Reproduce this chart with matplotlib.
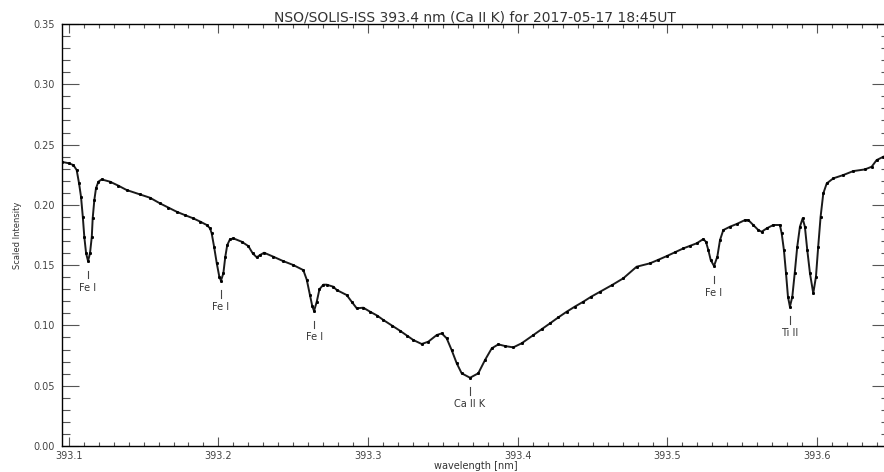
import matplotlib.pyplot as plt
from matplotlib.ticker import MultipleLocator

# Ca II K region, scaled intensity vs wavelength (nm)
wavelength = [
    393.0953, 393.1000, 393.1031, 393.1053, 393.1069, 393.1082, 393.1094, 393.1104,
    393.1116, 393.1129, 393.1142, 393.1154, 393.1160, 393.1171, 393.1182, 393.1198,
    393.1220, 393.1276, 393.1330, 393.1387, 393.1476, 393.1543, 393.1610, 393.1665,
    393.1721, 393.1776, 393.1832, 393.1880, 393.1922, 393.1944, 393.1955, 393.1971,
    393.1989, 393.2006, 393.2017, 393.2033, 393.2046, 393.2059, 393.2077, 393.2100,
    393.2156, 393.2200, 393.2229, 393.2256, 393.2278, 393.2305, 393.2367, 393.2430,
    393.2500, 393.2567, 393.2590, 393.2612, 393.2627, 393.2639, 393.2657, 393.2675,
    393.2701, 393.2723, 393.2768, 393.2790, 393.2857, 393.2890, 393.2924, 393.2968,
    393.3013, 393.3060, 393.3102, 393.3160, 393.3213, 393.3260, 393.3302, 393.3358,
    393.3402, 393.3458, 393.3492, 393.3525, 393.3558, 393.3592, 393.3625, 393.3681,
    393.3736, 393.3781, 393.3826, 393.3870, 393.3915, 393.3970, 393.4026, 393.4104,
    393.4160, 393.4215, 393.4270, 393.4327, 393.4380, 393.4438, 393.4490, 393.4549,
    393.4630, 393.4705, 393.4794, 393.4883, 393.4940, 393.4995, 393.5050, 393.5106,
    393.5150, 393.5195, 393.5239, 393.5257, 393.5273, 393.5289, 393.5311, 393.5333,
    393.5351, 393.5373, 393.5418, 393.5462, 393.5518, 393.5540, 393.5573, 393.5607,
    393.5629, 393.5663, 393.5707, 393.5751, 393.5763, 393.5778, 393.5792, 393.5805,
    393.5818, 393.5834, 393.5850, 393.5867, 393.5885, 393.5903, 393.5918, 393.5934,
    393.5952, 393.5974, 393.5992, 393.6007, 393.6023, 393.6041, 393.6064, 393.6108,
    393.6174, 393.6241, 393.6319, 393.6364, 393.6397, 393.6442,
]
intensity = [
    0.2357, 0.2345, 0.2330, 0.2289, 0.2178, 0.2067, 0.1901, 0.1735,
    0.1598, 0.1534, 0.1598, 0.1735, 0.1888, 0.2040, 0.2137, 0.2192,
    0.2211, 0.2192, 0.2160, 0.2123, 0.2087, 0.2059, 0.2012, 0.1978,
    0.1943, 0.1915, 0.1888, 0.1860, 0.1833, 0.1805, 0.1764, 0.1653,
    0.1515, 0.1404, 0.1371, 0.1432, 0.1570, 0.1667, 0.1714, 0.1722,
    0.1694, 0.1658, 0.1598, 0.1565, 0.1584, 0.1603, 0.1570, 0.1535,
    0.1501, 0.1459, 0.1380, 0.1250, 0.1160, 0.1120, 0.1197, 0.1300,
    0.1338, 0.1338, 0.1321, 0.1294, 0.1252, 0.1197, 0.1142, 0.1147,
    0.1114, 0.1082, 0.1045, 0.0998, 0.0956, 0.0915, 0.0879, 0.0846,
    0.0865, 0.0920, 0.0934, 0.0893, 0.0796, 0.0686, 0.0603, 0.0566,
    0.0603, 0.0713, 0.0810, 0.0843, 0.0829, 0.0818, 0.0852, 0.0920,
    0.0968, 0.1017, 0.1066, 0.1114, 0.1155, 0.1197, 0.1238, 0.1279,
    0.1335, 0.1391, 0.1487, 0.1515, 0.1545, 0.1575, 0.1607, 0.1639,
    0.1660, 0.1681, 0.1716, 0.1694, 0.1625, 0.1542, 0.1493, 0.1570,
    0.1708, 0.1791, 0.1819, 0.1841, 0.1874, 0.1874, 0.1833, 0.1791,
    0.1777, 0.1805, 0.1833, 0.1833, 0.1764, 0.1625, 0.1432, 0.1238,
    0.1155, 0.1238, 0.1432, 0.1653, 0.1819, 0.1888, 0.1819, 0.1625,
    0.1432, 0.1266, 0.1404, 0.1653, 0.1901, 0.2095, 0.2178, 0.2220,
    0.2247, 0.2280, 0.2294, 0.2316, 0.2371, 0.2399,
]

# identified lines
line_wl = [393.1129, 393.2017, 393.2639, 393.3681, 393.5311, 393.5818]
line_name = ["Fe I", "Fe I", "Fe I", "Ca II K", "Fe I", "Ti II"]

fig = plt.figure(figsize=(8.84, 4.72), dpi=100)
ax = fig.add_axes([61.7 / 884, 26 / 472, (889 - 61.7) / 884, 422 / 472])

ax.plot(wavelength, intensity, color="#1a1a1a", lw=1.4)
ax.plot(wavelength, intensity, "s", ms=1.1, color="black")

for wl, name in zip(line_wl, line_name):
    i = min(range(len(wavelength)), key=lambda k: abs(wavelength[k] - wl))
    ymin = intensity[i]
    ax.plot([wl, wl], [ymin - 0.008, ymin - 0.014], color="#444444", lw=0.8)
    ax.text(wl, ymin - 0.022, name, ha="center", va="center",
            fontsize=7, color="#333333")

ax.set_xlim(393.0953, 393.648)
ax.set_ylim(0, 0.35)
ax.xaxis.set_major_locator(MultipleLocator(0.1))
ax.xaxis.set_minor_locator(MultipleLocator(0.01))
ax.yaxis.set_major_locator(MultipleLocator(0.05))
ax.yaxis.set_minor_locator(MultipleLocator(0.01))
ax.xaxis.set_major_formatter(plt.FormatStrFormatter("%.1f"))
ax.yaxis.set_major_formatter(plt.FormatStrFormatter("%.2f"))

ax.tick_params(axis="both", which="both", direction="in", top=True, right=True,
               color="#555555", labelcolor="#444444", labelsize=7, width=0.8)
ax.tick_params(axis="y", which="major", length=12, pad=5)
ax.tick_params(axis="y", which="minor", length=6)
ax.tick_params(axis="x", which="major", length=6.7, pad=3.5)
ax.tick_params(axis="x", which="minor", length=2.8)
for sp in ax.spines.values():
    sp.set_linewidth(1.0)

ax.set_xlabel("wavelength [nm]", fontsize=7, color="#333333", labelpad=0)
ax.set_ylabel("Scaled Intensity", fontsize=6, color="#333333", labelpad=8)
fig.text(0.537, 0.963, "NSO/SOLIS-ISS 393.4 nm (Ca II K) for 2017-05-17 18:45UT",
         ha="center", va="center", fontsize=10, color="#333333")

fig.savefig("out.png", dpi=100)
